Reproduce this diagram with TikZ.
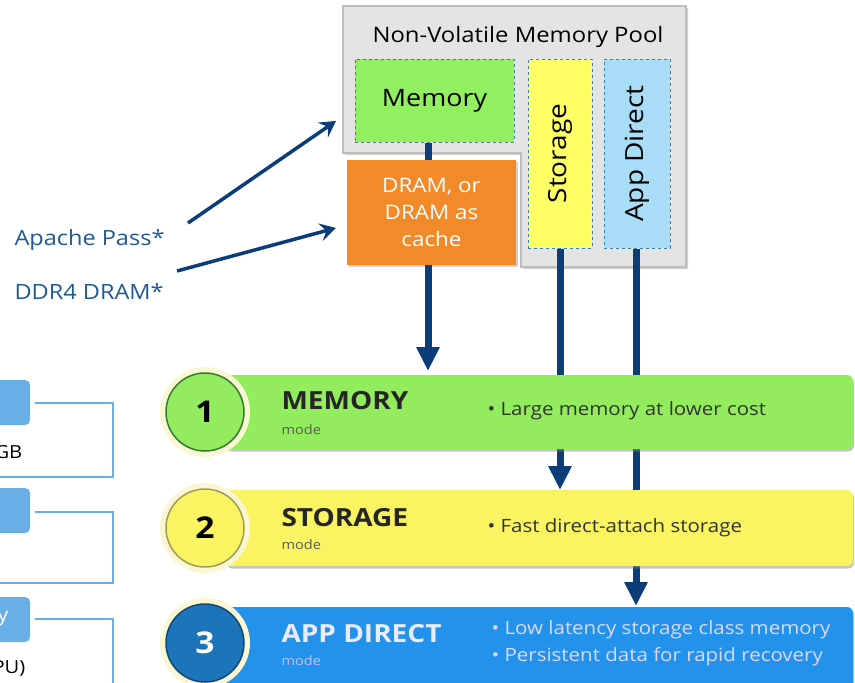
\documentclass[tikz,border=0pt]{standalone}
\usepackage{fontspec}
\setmainfont{Open Sans}[FakeStretch=1.12]
\usetikzlibrary{arrows.meta,shadows}
\definecolor{navy}{HTML}{0B3D78}
\definecolor{poolgray}{HTML}{E4E4E4}
\definecolor{poolline}{HTML}{BDBDBD}
\definecolor{memgreen}{HTML}{92F060}
\definecolor{stoyellow}{HTML}{FFFF66}
\definecolor{applight}{HTML}{A9DDF7}
\definecolor{dramorange}{HTML}{F28A2A}
\definecolor{dashblue}{HTML}{3C7FA8}
\definecolor{barone}{HTML}{93EC5E}
\definecolor{bartwo}{HTML}{FAF462}
\definecolor{barthree}{HTML}{2392EA}
\definecolor{labelblue}{HTML}{1F5A96}
\definecolor{sideblue}{HTML}{6AAEE6}
\definecolor{halo}{HTML}{FBF7D2}
\begin{document}
\begin{tikzpicture}[x=1pt,y=-1pt,
  fs/.style={font=\fontsize{#1}{#1}\selectfont},
  poolbox/.style={draw=dashblue,dashed,line width=1pt,minimum width=#1},
  flow/.style={draw=navy,line width=7pt,-{Triangle[width=22pt,length=24pt]}},
  pointer/.style={draw=navy,line width=3.5pt,-{Stealth[length=16pt,width=18pt,inset=6pt]}},
  modebar/.style={rounded corners=6pt,drop shadow={opacity=0.45,shadow xshift=1pt,shadow yshift=-2.5pt}},
  numcirc/.style={circle,minimum size=78pt,line width=1.5pt,inner sep=0pt,font=\fontsize{30}{34}\selectfont\bfseries},
  modetitle/.style={anchor=west,font=\fontsize{25}{28}\selectfont\bfseries},
  modesub/.style={anchor=west,font=\fontsize{13}{14}\selectfont},
  bullet/.style={anchor=west,font=\fontsize{18.3}{27}\selectfont,align=left},
  sidebox/.style={fill=sideblue,rounded corners=5pt},
  bracket/.style={draw=sideblue,line width=2.5pt}
]
\useasboundingbox (0,0) rectangle (855,683);
\fill[white] (0,0) rectangle (855,683);

% ---- Non-volatile memory pool ----
\filldraw[fill=poolgray,draw=poolline,line width=1.5pt,drop shadow={opacity=0.35,shadow xshift=2pt,shadow yshift=-2pt}]
  (343,6) -- (686,6) -- (686,267) -- (521,267) -- (521,153) -- (343,153) -- cycle;
\node[fs=21.3,anchor=center] (pooltitle) at (518,37) {Non-Volatile Memory Pool};

\node[poolbox=159pt,minimum height=83pt,fill=memgreen,fs=24] (mem) at (434.5,100.5) {Memory};
\node[poolbox=64pt,minimum height=189pt,fill=stoyellow] (sto) at (560,153.5) {};
\node[rotate=90,fs=25] (stotext) at (sto.center) {Storage};
\node[poolbox=66pt,minimum height=189pt,fill=applight] (app) at (637,153.5) {};
\node[rotate=90,fs=25] (apptext) at (app.center) {App Direct};

\node[fill=dramorange,minimum width=169pt,minimum height=105pt,text=white,align=center,
  drop shadow={opacity=0.35,shadow xshift=2pt,shadow yshift=-2pt},font=\fontsize{20}{27}\selectfont] (dram) at (431.5,212.5) {DRAM, or\\DRAM as\\cache};

\draw[navy,line width=7pt] (mem.south -| 428,0) -- (dram.north -| 428,0);

% ---- flows (drawn below bars) ----
\coordinate (memtip) at (428,371);
\coordinate (stotip) at (560,490);
\coordinate (apptip) at (636,606);
\draw[flow] (dram.south -| memtip) -- (memtip);
\draw[flow] (sto.south) -- (stotip);
\draw[flow] (app.south -| apptip) -- (apptip);

% ---- mode bars ----
\fill[barone,modebar] (225,375) rectangle (853,449);
\node (bar1) at (540,412) {};
\fill[bartwo,modebar] (225,490) rectangle (853,566);
\node (bar2) at (540,528) {};
\fill[barthree,modebar] (225,607) rectangle (853,700);
\node (bar3) at (540,645) {};

% circles
\fill[halo] (205,412) circle (45);
\node[numcirc,fill=barone,draw=black!55!green!60!gray,text=black] (c1) at (205,412) {1};
\fill[halo] (205,528) circle (45);
\node[numcirc,fill=bartwo,draw=black!40!yellow!70!gray,text=black] (c2) at (205,528) {2};
\fill[halo] (205,643) circle (45);
\node[numcirc,fill=barthree!80!black,draw=barthree!50!black,text=white] (c3) at (205,643) {3};

\node[modetitle,text=black!85] (t1) at (278,401) {MEMORY};
\node[modesub,text=black!65] (s1) at (278,430) {mode};
\node[bullet,text=black!80] (b1) at (484,411) {• Large memory at lower cost};

\node[modetitle,text=black!85] (t2) at (278,518) {STORAGE};
\node[modesub,text=black!65] (s2) at (278,545) {mode};
\node[bullet,text=black!80] (b2) at (484,528) {• Fast direct-attach storage};

\node[modetitle,text=white!92!blue] (t3) at (278,634) {APP DIRECT};
\node[modesub,text=white!75!blue] (s3) at (278,661) {mode};
\node[bullet,text=white!85!blue] (b3) at (488,643) {• Low latency storage class memory\\• Persistent data for rapid recovery};

% ---- left labels and pointers ----
\node[anchor=west,fs=21,text=labelblue] (apache) at (11,240) {Apache Pass*};
\node[anchor=west,fs=21,text=labelblue] (ddr) at (11,292) {DDR4 DRAM*};
\coordinate (p1s) at (188,223);
\coordinate (p1e) at (336,121);
\coordinate (p2s) at (177,271);
\coordinate (p2e) at (336,228);
\draw[pointer] (p1s) -- (p1e);
\draw[pointer] (p2s) -- (p2e);

% ---- cut-off side items ----
\fill[sidebox] (-15,380) rectangle (30,425);
\fill[sidebox] (-15,488) rectangle (30,533);
\fill[sidebox] (-15,597) rectangle (30,642);
\node[anchor=west,fs=19,text=white] (yy) at (-6,619) {y};
\node[anchor=west,fs=18] (gb) at (-9,452) {GB};
\node[anchor=west,fs=18] (pu) at (-11,668) {PU)};
\coordinate (k1a) at (35,403);
\coordinate (k1b) at (113,477);
\draw[bracket] (k1a) -| (k1b) -- (-2,477);
\coordinate (k2a) at (35,512);
\coordinate (k2b) at (113,583);
\draw[bracket] (k2a) -| (k2b) -- (-2,583);
\coordinate (k3a) at (35,619);
\coordinate (k3b) at (113,690);
\draw[bracket] (k3a) -| (k3b);
\end{tikzpicture}
\end{document}
